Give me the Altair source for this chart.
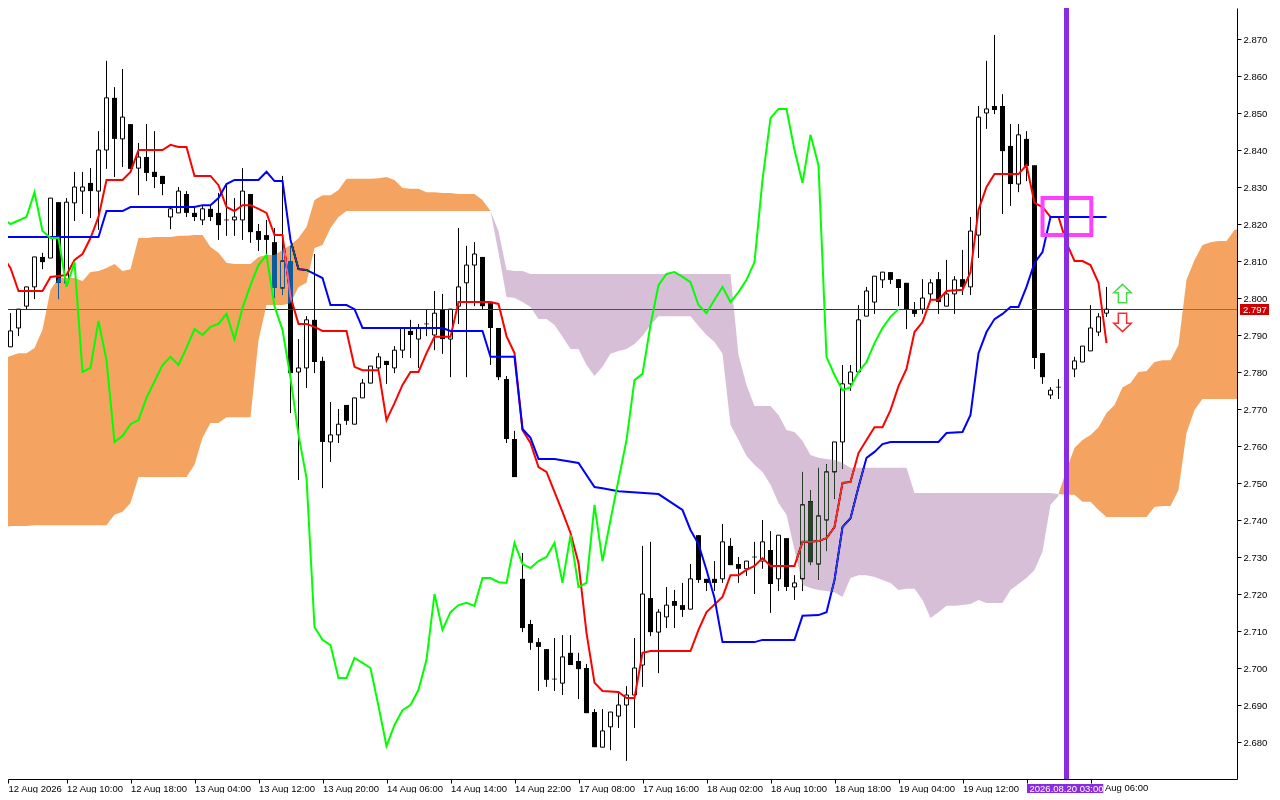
import altair as alt
import pandas as pd

FONT = "Liberation Sans"
FS = 9.5

# ---- candles (bar index 0..138) ----
opens = [2.7881,2.7868,2.7919,2.7978,2.8030,2.8111,2.8108,2.8259,2.8041,2.8257,
2.8289,2.8311,2.8289,2.8400,2.8541,2.8430,2.8470,2.8351,2.8381,2.8341,
2.8330,2.8219,2.8230,2.8281,2.8230,2.8211,2.8241,2.8230,2.8211,2.8211,
2.8211,2.8281,2.8181,2.8170,2.8151,2.8027,2.8100,2.7800,2.7811,2.7941,
2.7830,2.7611,2.7630,2.7711,2.7659,2.7730,2.7770,2.7811,2.7830,2.7811,
2.7859,2.7911,2.7889,2.7930,2.7900,2.7968,2.7889,2.7978,2.8041,2.8089,
2.8111,2.7986,2.7919,2.7781,2.7619,2.7241,2.7119,2.7070,2.7051,2.6970,
2.6959,2.7041,2.7019,2.7000,2.6881,2.6786,2.6841,2.6870,2.6900,2.6927,
2.7008,2.7189,2.7097,2.7138,2.7181,2.7170,2.7159,2.7359,2.7241,2.7241,
2.7241,2.7330,2.7281,2.7268,2.7300,2.7289,2.7319,2.7241,2.7351,2.7219,
2.7241,2.7451,2.7281,2.7400,2.7530,2.7611,2.7768,2.7800,2.7951,2.7989,
2.8049,2.8070,2.8051,2.8041,2.7970,2.7970,2.8011,2.8051,2.7978,2.8011,
2.8051,2.8030,2.8170,2.8500,2.8519,2.8519,2.8411,2.8308,2.8430,2.8359,
2.7851,2.7738,2.7759,2.7757,2.7808,2.7827,2.7857,2.7908,2.7959]
highs = [2.7881,2.7959,2.7970,2.8030,2.8111,2.8122,2.8270,2.8259,2.8270,2.8341,
2.8341,2.8351,2.8451,2.8641,2.8570,2.8619,2.8470,2.8419,2.8470,2.8451,
2.8330,2.8249,2.8300,2.8289,2.8249,2.8249,2.8249,2.8284,2.8311,2.8270,
2.8351,2.8281,2.8200,2.8211,2.8189,2.8330,2.8141,2.7889,2.7951,2.8119,
2.7841,2.7719,2.7700,2.7711,2.7730,2.7781,2.7816,2.7851,2.7830,2.7870,
2.7919,2.7941,2.7930,2.7970,2.8019,2.8011,2.7970,2.8189,2.8141,2.8151,
2.8111,2.7986,2.7919,2.7789,2.7641,2.7311,2.7130,2.7081,2.7051,2.7081,
2.7089,2.7089,2.7041,2.7011,2.6889,2.6889,2.6881,2.6932,2.6951,2.7081,
2.7330,2.7341,2.7159,2.7219,2.7211,2.7230,2.7281,2.7359,2.7241,2.7289,
2.7389,2.7351,2.7300,2.7289,2.7341,2.7400,2.7370,2.7359,2.7351,2.7251,
2.7530,2.7481,2.7541,2.7551,2.7611,2.7819,2.7819,2.7981,2.8030,2.8059,
2.8070,2.8070,2.8051,2.8041,2.7989,2.8051,2.8051,2.8070,2.8103,2.8059,
2.8130,2.8219,2.8519,2.8641,2.8711,2.8551,2.8470,2.8470,2.8451,2.8359,
2.7851,2.7759,2.7781,2.7816,2.7841,2.7870,2.7981,2.7959,2.8030]
lows = [2.7868,2.7868,2.7897,2.7970,2.7997,2.8078,2.8108,2.7997,2.8041,2.8208,
2.8227,2.8216,2.8184,2.8349,2.8327,2.8354,2.8349,2.8278,2.8316,2.8297,
2.8278,2.8186,2.8230,2.8219,2.8208,2.8197,2.8208,2.8157,2.8168,2.8168,
2.8157,2.8149,2.8127,2.8116,2.8000,2.8008,2.7689,2.7508,2.7757,2.7797,
2.7486,2.7557,2.7608,2.7657,2.7659,2.7730,2.7770,2.7805,2.7768,2.7797,
2.7838,2.7838,2.7811,2.7897,2.7859,2.7849,2.7786,2.7930,2.7786,2.7978,
2.7970,2.7819,2.7778,2.7608,2.7516,2.7097,2.7049,2.6938,2.6949,2.6938,
2.6927,2.7008,2.6916,2.6878,2.6786,2.6786,2.6778,2.6838,2.6749,2.6838,
2.6949,2.7086,2.6986,2.7108,2.7108,2.7138,2.7159,2.7230,2.7208,2.7208,
2.7230,2.7278,2.7230,2.7249,2.7200,2.7268,2.7149,2.7208,2.7208,2.7184,
2.7208,2.7278,2.7238,2.7316,2.7457,2.7538,2.7749,2.7800,2.7951,2.7957,
2.8027,2.8038,2.7978,2.7916,2.7949,2.7957,2.7995,2.7957,2.7978,2.7957,
2.8008,2.8008,2.8108,2.8457,2.8497,2.8227,2.8249,2.8286,2.8316,2.7808,
2.7768,2.7727,2.7727,2.7746,2.7786,2.7827,2.7857,2.7897,2.7949]
closes = [2.7868,2.7911,2.7970,2.8030,2.8111,2.8097,2.8270,2.8041,2.8259,2.8300,
2.8300,2.8289,2.8400,2.8541,2.8430,2.8489,2.8349,2.8381,2.8338,2.8327,
2.8308,2.8241,2.8289,2.8230,2.8219,2.8241,2.8219,2.8197,2.8211,2.8219,
2.8289,2.8178,2.8157,2.8157,2.8027,2.8100,2.7797,2.7811,2.7941,2.7827,
2.7611,2.7630,2.7659,2.7668,2.7730,2.7770,2.7816,2.7841,2.7819,2.7859,
2.7919,2.7900,2.7919,2.7930,2.7959,2.7889,2.7970,2.8030,2.8089,2.8119,
2.7978,2.7919,2.7786,2.7619,2.7516,2.7108,2.7068,2.7057,2.6968,2.6970,
2.7030,2.7008,2.6997,2.6878,2.6786,2.6830,2.6881,2.6900,2.6927,2.7000,
2.7200,2.7097,2.7151,2.7170,2.7168,2.7157,2.7241,2.7238,2.7230,2.7230,
2.7341,2.7278,2.7268,2.7289,2.7300,2.7341,2.7227,2.7359,2.7219,2.7230,
2.7441,2.7286,2.7411,2.7530,2.7611,2.7768,2.7800,2.7941,2.8019,2.8059,
2.8070,2.8049,2.8027,2.7970,2.7957,2.8000,2.8041,2.7989,2.8011,2.8049,
2.8030,2.8181,2.8489,2.8511,2.8508,2.8397,2.8308,2.8441,2.8357,2.7838,
2.7786,2.7751,2.7759,2.7805,2.7830,2.7870,2.7919,2.7949,2.7970]

# ---- Tenkan-sen ----
tenkan_k = [0,1,2,5,6,8,9,10,11,12,13,15,16,17,20,21,22,23,24,26,27,28,29,30,31,32,33,34,35,36,37,38,39,40,43,44,45,47,48,49,50,51,52,53,54,56,57,61,62,63,64,65,66,67,68,69,70,71,72,73,74,75,77,78,79,80,81,86,87,88,90,91,92,93,94,95,96,99,100,101,102,103,104,105,106,107,108,109,110,111,112,113,114,115,116,117,118,120,121,122,123,124,127,128,129,130,131,132,133,134,135,136,137,138]
tenkan = [2.8114,2.8081,2.8019,2.8019,2.8057,2.8062,2.8103,2.8119,2.8162,2.8219,2.8319,2.8319,2.8341,2.8400,2.8400,2.8414,2.8408,2.8408,2.8330,2.8330,2.8305,2.8246,2.8235,2.8251,2.8251,2.8241,2.8230,2.8170,2.8170,2.8003,2.7930,2.7930,2.7922,2.7911,2.7911,2.7814,2.7805,2.7805,2.7670,2.7716,2.7765,2.7800,2.7800,2.7851,2.7895,2.7895,2.7989,2.7989,2.7984,2.7897,2.7851,2.7643,2.7608,2.7543,2.7530,2.7476,2.7422,2.7365,2.7284,2.7095,2.6960,2.6938,2.6935,2.6919,2.6919,2.7041,2.7046,2.7046,2.7103,2.7151,2.7192,2.7251,2.7251,2.7265,2.7276,2.7297,2.7276,2.7276,2.7341,2.7341,2.7343,2.7351,2.7381,2.7500,2.7503,2.7581,2.7616,2.7651,2.7651,2.7697,2.7762,2.7808,2.7908,2.7935,2.7995,2.7995,2.8019,2.8022,2.8070,2.8238,2.8300,2.8335,2.8335,2.8359,2.8257,2.8246,2.8219,2.8219,2.8149,2.8100,2.8100,2.8089,2.8041,2.7878]

# ---- Kijun-sen ----
kijun_k = [0,12,13,15,16,24,25,26,27,28,29,32,33,34,35,36,37,38,40,41,43,44,45,55,56,60,61,64,65,66,67,69,72,74,75,77,82,85,86,87,88,89,90,94,95,99,100,102,103,104,105,106,107,108,109,110,111,117,118,120,121,122,123,124,125,126,127,128,129,130,131,138]
kijun = [2.8165,2.8165,2.8235,2.8235,2.8246,2.8246,2.8251,2.8251,2.8270,2.8308,2.8319,2.8319,2.8341,2.8316,2.8316,2.8157,2.8078,2.8076,2.8054,2.7981,2.7981,2.7970,2.7919,2.7919,2.7911,2.7911,2.7841,2.7841,2.7646,2.7622,2.7565,2.7565,2.7554,2.7489,2.7486,2.7478,2.7470,2.7427,2.7373,2.7335,2.7265,2.7189,2.7070,2.7070,2.7076,2.7076,2.7141,2.7143,2.7151,2.7238,2.7381,2.7405,2.7489,2.7568,2.7584,2.7605,2.7611,2.7611,2.7635,2.7638,2.7684,2.7851,2.7908,2.7943,2.7957,2.7976,2.7976,2.8030,2.8095,2.8124,2.8219,2.8219]

# ---- Chikou span ----
chikou_k = [0,1,3,4,5,6,7,8,9,10,11,12,13,14,15,16,17,18,20,21,22,23,24,25,26,27,28,29,30,31,32,33,34,35,36,37,38,39,40,41,42,43,44,45,46,47,48,49,50,51,52,53,54,55,56,57,58,59,60,61,62,63,64,65,66,67,68,69,70,71,72,73,74,75,76,77,78,79,80,81,82,83,84,85,86,87,88,89,90,91,92,93,94,95,96,97,98,99,100,101,102,103,104,105,106,107,108,109,110,111,112]
chikou = [2.8216,2.8200,2.8219,2.8286,2.8181,2.8162,2.8162,2.8030,2.8097,2.7800,2.7811,2.7938,2.7832,2.7611,2.7627,2.7659,2.7670,2.7730,2.7819,2.7841,2.7819,2.7865,2.7916,2.7900,2.7922,2.7930,2.7957,2.7889,2.7973,2.8035,2.8089,2.8116,2.7978,2.7914,2.7784,2.7630,2.7514,2.7111,2.7076,2.7062,2.6973,2.6973,2.7027,2.7014,2.7000,2.6897,2.6789,2.6846,2.6886,2.6900,2.6941,2.7022,2.7200,2.7103,2.7151,2.7170,2.7176,2.7168,2.7243,2.7243,2.7232,2.7230,2.7338,2.7281,2.7270,2.7289,2.7300,2.7338,2.7230,2.7359,2.7219,2.7230,2.7441,2.7289,2.7400,2.7508,2.7616,2.7778,2.7795,2.7927,2.8035,2.8065,2.8070,2.8057,2.8043,2.7981,2.7959,2.7995,2.8030,2.7989,2.8016,2.8049,2.8097,2.8319,2.8486,2.8511,2.8511,2.8400,2.8311,2.8441,2.8359,2.7841,2.7792,2.7751,2.7759,2.7800,2.7827,2.7878,2.7919,2.7949,2.7970]

# ---- Kumo: orange section, bars 0..61 ----
kumo1_top = [2.7835,2.7843,2.7851,2.7851,2.7865,2.7914,2.8022,2.8054,2.8054,2.8054,2.8046,2.8070,2.8073,2.8081,2.8092,2.8073,2.8078,2.8162,2.8162,2.8165,2.8165,2.8165,2.8168,2.8168,2.8170,2.8170,2.8138,2.8122,2.8095,2.8092,2.8092,2.8092,2.8111,2.8116,2.8116,2.8130,2.8143,2.8162,2.8192,2.8265,2.8278,2.8278,2.8292,2.8322,2.8322,2.8322,2.8322,2.8324,2.8327,2.8319,2.8297,2.8295,2.8295,2.8286,2.8286,2.8284,2.8284,2.8281,2.8281,2.8281,2.8265,2.8235]
kumo1_bot = [2.7378,2.7384,2.7384,2.7384,2.7386,2.7386,2.7386,2.7386,2.7386,2.7386,2.7386,2.7386,2.7386,2.7386,2.7414,2.7422,2.7446,2.7516,2.7516,2.7516,2.7516,2.7516,2.7516,2.7516,2.7549,2.7622,2.7662,2.7662,2.7678,2.7678,2.7678,2.7678,2.7886,2.7981,2.7981,2.7981,2.7986,2.8030,2.8041,2.8135,2.8143,2.8189,2.8219,2.8235,2.8235,2.8235,2.8235,2.8235,2.8235,2.8235,2.8235,2.8235,2.8235,2.8235,2.8235,2.8235,2.8235,2.8235,2.8235,2.8235,2.8235,2.8235]
# ---- Kumo: thistle section, bars 61..132 ----
kumo2_top = [2.8235,2.8181,2.8076,2.8073,2.8073,2.8065,2.8065,2.8065,2.8065,2.8065,2.8065,2.8065,2.8065,2.8065,2.8065,2.8065,2.8065,2.8065,2.8065,2.8065,2.8065,2.8065,2.8065,2.8065,2.8065,2.8065,2.8065,2.8065,2.8065,2.8065,2.8065,2.7846,2.7765,2.7708,2.7708,2.7708,2.7684,2.7643,2.7638,2.7614,2.7576,2.7568,2.7565,2.7562,2.7554,2.7541,2.7541,2.7541,2.7541,2.7541,2.7541,2.7541,2.7541,2.7473,2.7473,2.7473,2.7473,2.7473,2.7473,2.7473,2.7473,2.7473,2.7473,2.7473,2.7473,2.7473,2.7473,2.7473,2.7473,2.7473,2.7473,2.7470]
kumo2_bot = [2.8235,2.8122,2.8003,2.8000,2.7989,2.7976,2.7943,2.7943,2.7927,2.7895,2.7862,2.7862,2.7819,2.7789,2.7814,2.7849,2.7857,2.7862,2.7876,2.7897,2.7927,2.7951,2.7951,2.7951,2.7951,2.7951,2.7924,2.7900,2.7881,2.7849,2.7657,2.7616,2.7573,2.7549,2.7530,2.7495,2.7446,2.7414,2.7319,2.7224,2.7216,2.7211,2.7208,2.7205,2.7192,2.7243,2.7251,2.7251,2.7246,2.7238,2.7230,2.7211,2.7214,2.7214,2.7184,2.7135,2.7151,2.7168,2.7168,2.7170,2.7173,2.7184,2.7176,2.7176,2.7176,2.7211,2.7227,2.7243,2.7265,2.7314,2.7441,2.7465]
# ---- Kumo: orange section ahead of price, bars 132..154 and the right edge ----
kumo3_k = [132,133,134,135,136,137,138,139,140,141,142,143,144,145,146,147,148,149,150,151,152,153,154,154.3125]
kumo3_top = [2.7470,2.7535,2.7595,2.7616,2.7630,2.7651,2.7689,2.7711,2.7759,2.7770,2.7800,2.7803,2.7827,2.7832,2.7832,2.7873,2.8049,2.8103,2.8143,2.8151,2.8154,2.8154,2.8184,2.8186]
kumo3_bot = [2.7470,2.7468,2.7468,2.7449,2.7449,2.7427,2.7408,2.7408,2.7408,2.7408,2.7408,2.7408,2.7435,2.7438,2.7438,2.7481,2.7635,2.7697,2.7727,2.7727,2.7727,2.7727,2.7727,2.7727]

# ---- axes and annotations ----
price_ticks = [round(2.68 + i * 0.01, 2) for i in range(20)]
time_ticks = [0.6875] + [8 * i for i in range(1, 18)]
time_labels = ["12 Aug 2026","12 Aug 10:00","12 Aug 18:00","13 Aug 04:00","13 Aug 12:00","13 Aug 20:00",
               "14 Aug 06:00","14 Aug 14:00","14 Aug 22:00","17 Aug 08:00","17 Aug 16:00","18 Aug 02:00",
               "18 Aug 10:00","18 Aug 18:00","19 Aug 04:00","19 Aug 12:00","",""]
tail_label = ["Aug 06:00"]
tail_label_k = [137.8]
last_price = [2.79689]
cursor_k = [133]
cursor_text = "2026.08.20 03:00"
box = dict(k=[130], k2=[136.1], top=[2.8270], bot=[2.8170])
arrow_k = [140]
arrow_up_price = [2.8012]
arrow_dn_price = [2.7934]

candles = pd.DataFrame({"k": list(range(139)), "o": opens, "h": highs, "l": lows, "c": closes})
xs = alt.Scale(domain=[0.6875, 154.3125], nice=False, zero=False, padding=0)
ys = alt.Scale(domain=[2.67, 2.87838], nice=False, zero=False)

label_js = "[" + ",".join(f"'{t}'" for t in time_labels) + "]"
x_axis = alt.Axis(values=time_ticks, title=None, grid=False, domainColor="black", tickColor="black",
                  labelColor="black", tickSize=4, labelAlign="left", labelBaseline="top", labelPadding=0,
                  labelOverlap=False, labelFlush=False, labelBound=False, labelFont=FONT, labelFontSize=FS,
                  labelOffset=0, labelExpr=f"{label_js}[round(datum.value/8)]", zindex=0)
y_axis = alt.Axis(values=price_ticks, title=None, grid=False, orient="right", domainColor="black", tickColor="black",
                  labelColor="black", tickSize=4, labelPadding=2, format=".3f", labelOverlap=False, labelFlush=False,
                  labelBound=False, labelFont=FONT, labelFontSize=FS, zindex=0)
X = alt.X("k:Q", scale=xs, axis=x_axis)
Y = lambda f: alt.Y(f"{f}:Q", scale=ys, axis=y_axis)

wicks = alt.Chart(candles).mark_rule(color="black", strokeWidth=1).encode(x=X, y=Y("l"), y2="h:Q")
white = alt.Chart(candles).transform_filter("datum.c > datum.o").mark_bar(
    size=4, fill="white", stroke="black", strokeWidth=1, orient="vertical").encode(x=X, y=Y("o"), y2="c:Q")
black = alt.Chart(candles).transform_filter("datum.c < datum.o").mark_bar(
    size=5, color="black", orient="vertical").encode(x=X, y=Y("o"), y2="c:Q")
doji = alt.Chart(candles).transform_filter("datum.c == datum.o").mark_tick(
    color="black", size=5, thickness=1, orient="horizontal").encode(x=X, y=Y("o"))

last_line = alt.Chart(pd.DataFrame({"p": last_price})).mark_rule(color="#A80000", strokeWidth=1).encode(y=Y("p"))


def line(k, v, color):
    return alt.Chart(pd.DataFrame({"k": k, "v": v})).mark_line(
        color=color, strokeWidth=2, interpolate="linear").encode(x=X, y=Y("v"))


def kumo(k, top, bot, inverse):
    return alt.Chart(pd.DataFrame({"k": k, "t": top, "b": bot})).mark_area(
        color=inverse, blend="difference", opacity=1, interpolate="linear", line=False).encode(
        x=X, y=Y("t"), y2="b:Q")


k1 = list(range(0, 62))
k2 = list(range(61, 133))
clouds = [kumo(k1, kumo1_top, kumo1_bot, "#0B5B9F"),
          kumo(k2, kumo2_top, kumo2_bot, "#274027"),
          kumo(kumo3_k, kumo3_top, kumo3_bot, "#0B5B9F")]

pink = alt.Chart(pd.DataFrame(box)).mark_rect(fillOpacity=0, fill="white", stroke="#FF40FF", strokeWidth=4).encode(
    x=X, x2="k2:Q", y=Y("top"), y2="bot:Q")
cursor = alt.Chart(pd.DataFrame({"k": cursor_k})).mark_rule(color="#8A2BE2", strokeWidth=5).encode(x=X)

UP = "M0,-1 L0.95,-0.1 L0.45,-0.1 L0.45,1 L-0.45,1 L-0.45,-0.1 L-0.95,-0.1 Z"
DOWN = "M0,1 L0.95,0.1 L0.45,0.1 L0.45,-1 L-0.45,-1 L-0.45,0.1 L-0.95,0.1 Z"
up = alt.Chart(pd.DataFrame({"k": arrow_k, "p": arrow_up_price})).mark_point(
    shape=UP, size=340, filled=True, fill="white", stroke="#44DD44", strokeWidth=1.5, opacity=1).encode(x=X, y=Y("p"))
down = alt.Chart(pd.DataFrame({"k": arrow_k, "p": arrow_dn_price})).mark_point(
    shape=DOWN, size=340, filled=True, fill="white", stroke="#F03030", strokeWidth=1.5, opacity=1).encode(x=X, y=Y("p"))

cursor_box = alt.Chart(pd.DataFrame({"k": [128.06], "k2": [137.6]})).mark_rect(color="#8A2BE2").encode(
    x=X, x2="k2:Q", y=alt.value(776), y2=alt.value(787))
cursor_lab = alt.Chart(pd.DataFrame({"k": cursor_k, "t": [cursor_text]})).mark_text(
    color="white", font=FONT, fontSize=FS, align="center", baseline="middle").encode(
    x=X, y=alt.value(781), text="t:N")
tail_lab = alt.Chart(pd.DataFrame({"k": tail_label_k, "t": tail_label})).mark_text(
    color="black", font=FONT, fontSize=FS, align="left", baseline="top").encode(
    x=X, y=alt.value(775), text="t:N")
price_box = alt.Chart(pd.DataFrame({"a": [0]})).mark_rect(color="#CC0000").encode(
    x=alt.value(1232), x2=alt.value(1261), y=alt.value(296), y2=alt.value(307))
price_lab = alt.Chart(pd.DataFrame({"p": last_price, "t": ["2.797"]})).mark_text(
    color="white", font=FONT, fontSize=FS, align="left", baseline="middle").encode(
    x=alt.value(1235), y=Y("p"), text="t:N")

chart = alt.layer(
    wicks, white, black, doji, last_line,
    line(tenkan_k, tenkan, "#FF0000"), line(kijun_k, kijun, "#0000FF"),
    *clouds,
    line(chikou_k, chikou, "#00FF00"),
    pink, cursor, up, down, cursor_box, cursor_lab, tail_lab, price_box, price_lab,
).properties(
    width=1229, height=771, background="white",
    padding={"left": 0, "top": 0, "right": 35, "bottom": 14},
    autosize=alt.AutoSizeParams(type="none"),
).configure_view(stroke=None)

chart.save("out.html", embed_options={"renderer": "svg", "actions": False})
